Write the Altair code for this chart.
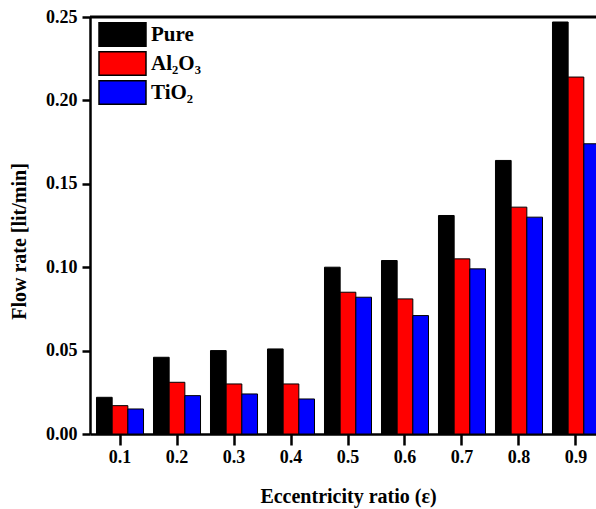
import altair as alt
import pandas as pd

categories = ["0.1", "0.2", "0.3", "0.4", "0.5", "0.6", "0.7", "0.8", "0.9"]
series = ["Pure", "Al₂O₃", "TiO₂"]
pure = [0.022, 0.046, 0.050, 0.051, 0.100, 0.104, 0.131, 0.164, 0.247]
al2o3 = [0.017, 0.031, 0.030, 0.030, 0.085, 0.081, 0.105, 0.136, 0.214]
tio2 = [0.015, 0.023, 0.024, 0.021, 0.082, 0.071, 0.099, 0.130, 0.174]
colors = ["#000000", "#ff0000", "#0000ff"]
y_ticks = [0.0, 0.05, 0.10, 0.15, 0.20, 0.25]

rows = []
for s, vals in zip(series, [pure, al2o3, tio2]):
    for c, v in zip(categories, vals):
        rows.append({"eps": c, "fluid": s, "flow": v})
df = pd.DataFrame(rows)

FONT = "Liberation Serif"

bars = alt.Chart(df).mark_bar(stroke="black", strokeWidth=1).encode(
    x=alt.X(
        "eps:N",
        sort=categories,
        scale=alt.Scale(range=[0, 516], paddingInner=0.175, paddingOuter=0.114),
        axis=alt.Axis(
            title="Eccentricity ratio (ε)",
            labelAngle=0,
            labelFont=FONT, labelFontSize=18, labelFontWeight="bold", labelColor="black",
            labelPadding=3,
            tickSize=11, tickWidth=2.5, tickColor="black",
            domainWidth=2.5, domainColor="black",
            titleFont=FONT, titleFontSize=20, titleFontWeight="bold", titleColor="black",
            titleX=258, titleY=62, titleBaseline="middle", titleAlign="center",
        ),
    ),
    xOffset=alt.XOffset("fluid:N", sort=series,
                        scale=alt.Scale(domain=series, paddingInner=0, paddingOuter=0)),
    y=alt.Y(
        "flow:Q",
        scale=alt.Scale(domain=[0, 0.25], nice=False),
        axis=alt.Axis(
            values=y_ticks, format=".2f", grid=False,
            title="Flow rate [lit/min]",
            labelFont=FONT, labelFontSize=18, labelFontWeight="bold", labelColor="black",
            labelPadding=5,
            tickSize=8, tickWidth=2.5, tickColor="black",
            domainWidth=2.5, domainColor="black",
            titleFont=FONT, titleFontSize=20, titleFontWeight="bold", titleColor="black",
            titleAngle=270, titleX=-71, titleY=224, titleBaseline="middle", titleAlign="center",
        ),
    ),
    color=alt.Color(
        "fluid:N",
        sort=series,
        scale=alt.Scale(domain=series, range=colors),
        legend=alt.Legend(
            title=None, orient="none", legendX=20, legendY=5, padding=0,
            symbolType="M-2,-1H2V1H-2Z", symbolSize=552,
            symbolStrokeColor="black", symbolStrokeWidth=1.5, symbolOpacity=1,
            labelFont=FONT, labelFontSize=21, labelFontWeight="bold", labelColor="black",
            labelOffset=16, rowPadding=-2,
        ),
    ),
)

top_line = alt.Chart(pd.DataFrame({"a": [0]})).mark_rule(
    color="black", strokeWidth=3
).encode(x=alt.value(0), x2=alt.value(600), y=alt.value(0))

chart = alt.layer(bars, top_line).properties(
    width=506,
    height=417,
    autosize=alt.AutoSizeParams(type="none"),
    padding={"left": 90, "top": 17, "right": 0, "bottom": 75},
).configure_view(stroke=None)

chart.save("out.html", embed_options={"renderer": "svg", "actions": False})
